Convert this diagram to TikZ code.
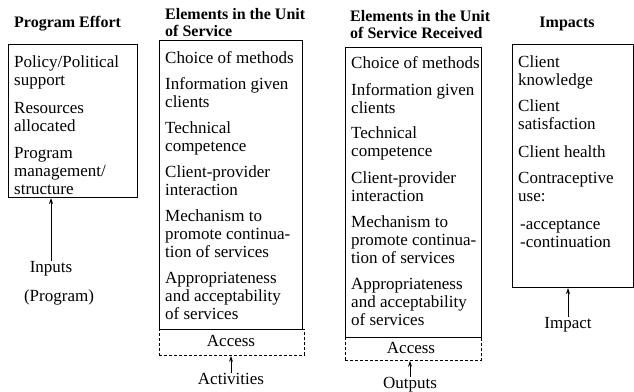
\documentclass[tikz,border=0pt]{standalone}
\usepackage{fontspec}
\setmainfont{Liberation Serif}
\usetikzlibrary{arrows.meta}
% lines stacked from the first baseline downwards
\newcommand\stackl[1]{\begin{tabular}[t]{@{}l@{}}#1\end{tabular}}
\begin{document}
\begin{tikzpicture}[x=1pt,y=-1pt,
  item/.style={anchor=base west, inner sep=0pt, font=\fontsize{17}{18}\selectfont},
  head/.style={anchor=base west, inner sep=0pt, font=\fontsize{16}{17}\selectfont\bfseries},
  frame/.style={draw, line width=1pt, anchor=north west, inner sep=0pt},
  dashframe/.style={draw, dashed, dash pattern=on 3pt off 2pt, line width=0.9pt, anchor=north west, inner sep=0pt},
  lab/.style={anchor=base, inner sep=0pt, font=\fontsize{17}{18}\selectfont},
  arr/.style={-{Stealth[length=6pt,width=4pt]}, line width=0.8pt}]
\useasboundingbox (0,0) rectangle (634,391);

% Column 1: program effort
\node[head] (h1) at (14,27) {Program Effort};
\node[frame, minimum width=129, minimum height=153] (b1) at (8,44) {};
\node[item] (p1) at (14,67) {\stackl{Policy/Political\\support}};
\node[item] (p2) at (14,113) {\stackl{Resources\\allocated}};
\node[item] (p3) at (14,158) {\stackl{Program\\management/\\structure}};
\node[lab] (inputs) at (51,272) {Inputs};
\node[lab] (prog) at (59,301) {(Program)};
\draw[arr] (inputs.north) -- (inputs.north |- b1.south);

% Column 2: elements in the unit of service
\node[head] (h2) at (165,19) {\stackl{Elements in the Unit\\of Service}};
\node[frame, minimum width=143, minimum height=289] (b2) at (159,40) {};
\node[dashframe, minimum width=145, minimum height=26] (a2) at (159,329) {};
\node[item] (s1) at (165,63) {Choice of methods};
\node[item] (s2) at (165,89) {\stackl{Information given\\clients}};
\node[item] (s3) at (165,133) {\stackl{Technical\\competence}};
\node[item] (s4) at (165,177) {\stackl{Client-provider\\interaction}};
\node[item] (s5) at (165,221) {\stackl{Mechanism to\\promote continua-\\tion of services}};
\node[item] (s6) at (165,283) {\stackl{Appropriateness\\and acceptability\\of services}};
\node[lab] (acc2) at (231,346) {Access};
\node[lab] (act) at (231,384) {Activities};
\draw[arr] (act.north) -- (act.north |- a2.south);

% Column 3: elements in the unit of service received
\node[head] (h3) at (350,21) {\stackl{Elements in the Unit\\of Service Received}};
\node[frame, minimum width=136, minimum height=290] (b3) at (345,47) {};
\node[dashframe, minimum width=136, minimum height=23] (a3) at (345,337) {};
\node[item] (r1) at (351,68) {Choice of methods};
\node[item] (r2) at (351,95) {\stackl{Information given\\clients}};
\node[item] (r3) at (351,138) {\stackl{Technical\\competence}};
\node[item] (r4) at (351,183) {\stackl{Client-provider\\interaction}};
\node[item] (r5) at (351,227) {\stackl{Mechanism to\\promote continua-\\tion of services}};
\node[item] (r6) at (351,289) {\stackl{Appropriateness\\and acceptability\\of services}};
\node[lab] (acc3) at (411,353) {Access};
\node[lab] (outp) at (410,388) {Outputs};
\draw[arr] (outp.north) -- (outp.north |- a3.south);

% Column 4: impacts
\node[head, anchor=base] (h4) at (567,27) {Impacts};
\node[frame, minimum width=121, minimum height=243] (b4) at (512,44) {};
\node[item] (i1) at (518,67) {\stackl{Client\\knowledge}};
\node[item] (i2) at (518,111) {\stackl{Client\\satisfaction}};
\node[item] (i3) at (518,157) {Client health};
\node[item] (i4) at (518,183) {\stackl{Contraceptive\\use:}};
\node[item] (i5) at (520,229) {\stackl{-acceptance\\-continuation}};
\node[lab] (imp) at (568,328) {Impact};
\draw[arr] (imp.north) -- (imp.north |- b4.south);
\end{tikzpicture}
\end{document}
